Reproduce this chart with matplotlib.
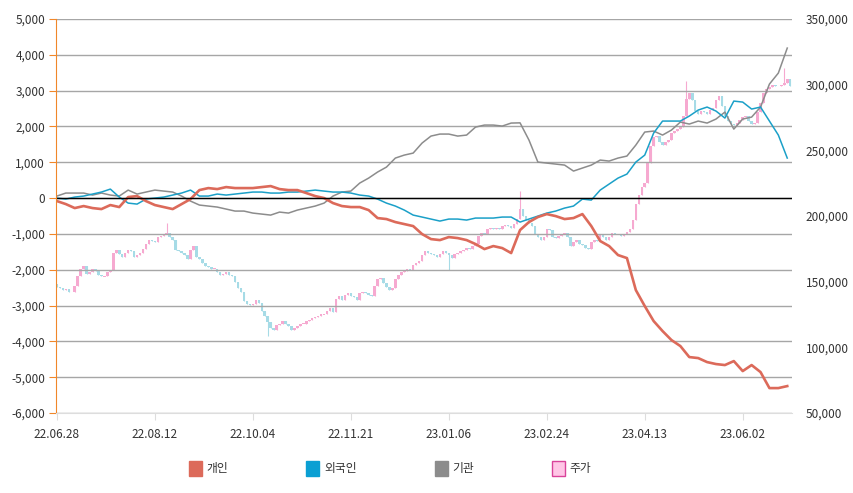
import numpy as np
import matplotlib
matplotlib.use("Agg")
from matplotlib import pyplot as plt
from matplotlib.patches import Patch
from matplotlib.ticker import FuncFormatter

plt.rcParams['font.family'] = ['Noto Sans CJK KR', 'DejaVu Sans']

# 주가 (daily close, thousand KRW)
closes = [146, 145, 144, 144.5, 142.5, 142, 147, 154, 160, 162, 156,
          157, 160, 158, 155, 154, 154, 157, 159, 172, 174,
          171, 169, 172, 174, 173, 169, 170, 172, 175, 179,
          182, 181, 180, 184, 185, 186, 187, 184, 182, 174,
          173, 172, 170, 167, 174, 177, 169, 167, 164, 162,
          161, 160, 160, 157, 155, 156, 157, 155, 154, 150,
          145, 142, 135, 133, 132, 133, 136, 134, 128, 124,
          119, 115, 113.5, 117, 118, 120, 118, 116, 113, 115,
          116, 118, 118, 120, 121, 122, 123, 124, 125, 125,
          128, 130, 127, 137, 139, 136, 140, 141, 139, 138,
          136, 141, 142, 141, 140, 139, 147, 152, 153, 149,
          146, 144, 145, 152, 155, 157, 158, 160, 159, 163,
          164, 166, 170, 173, 172, 171, 170, 169, 171, 173,
          172, 170, 168, 171, 172, 173, 174, 176, 175, 177,
          179, 185, 187, 186, 190, 191, 190, 191, 190, 192,
          193, 192, 191, 194, 198, 205, 200, 197, 195, 192,
          186, 184, 182, 184, 190, 189, 184, 183, 185, 186,
          187, 184, 177, 180, 182, 179, 178, 176, 175, 180,
          182, 181, 186, 184, 182, 184, 187, 186, 186, 185,
          186, 188, 190, 197, 209, 216, 222, 225, 240, 253,
          260, 261, 256, 254, 256, 258, 263, 265, 266, 268,
          276, 289, 294, 288, 280, 278, 280, 279, 278, 281,
          282, 288, 291, 284, 276, 272, 270, 269, 271, 273,
          275, 276, 272, 270, 271, 279, 286, 294, 297, 298,
          300, 299, 299, 300, 301, 304, 299]
first_open = 148
# long shadows (day index: price, thousand KRW)
wick_extremes = {37: 195, 71: 108.5, 132: 159, 156: 219, 212: 303, 245: 313}

# 순매수 누적 (every 3 trading days)
gaein = [-84, -168, -279, -223, -279, -307, -195, -251, 28, 56, -84, -195, -251,
         -307, -168, -28, 223, 279, 251, 307, 279, 279, 279, 307, 335, 251, 223,
         223, 140, 56, 0, -140, -223, -251, -251, -335, -558, -586, -670, -726,
         -782, -1005, -1145, -1173, -1089, -1117, -1173, -1284, -1424, -1340,
         -1396, -1535, -893, -670, -530, -447, -503, -586, -558, -447, -782,
         -1200, -1340, -1591, -1675, -2569, -3015, -3434, -3713, -3964, -4132,
         -4439, -4467, -4579, -4634, -4662, -4551, -4830, -4662, -4858, -5305,
         -5305, -5249]
foreign = [0, -28, 28, 56, 112, 168, 251, 28, -140, -168, -28, 0, 28, 84, 140,
           223, 56, 56, 112, 84, 112, 140, 168, 168, 140, 140, 168, 168, 195, 223,
           195, 168, 168, 140, 84, 56, -28, -140, -223, -335, -475, -530, -586,
           -642, -586, -586, -614, -558, -558, -558, -530, -530, -670, -586, -503,
           -419, -363, -279, -223, -28, -56, 223, 391, 558, 670, 1005, 1200, 1815,
           2150, 2150, 2150, 2289, 2457, 2541, 2429, 2234, 2708, 2680, 2485, 2541,
           2150, 1759, 1117]
institution = [56, 140, 140, 140, 84, 140, 84, 56, 223, 112, 168, 223, 195, 168,
               56, -84, -195, -223, -251, -307, -363, -363, -419, -447, -475, -391,
               -419, -335, -279, -223, -140, 56, 168, 195, 419, 558, 726, 865, 1117,
               1200, 1256, 1536, 1731, 1787, 1787, 1731, 1759, 1982, 2038, 2038,
               2010, 2094, 2100, 1620, 1005, 977, 949, 921, 754, 838, 921, 1061,
               1033, 1117, 1173, 1480, 1843, 1871, 1759, 1899, 2122, 2066, 2150,
               2094, 2206, 2401, 1926, 2206, 2261, 2541, 3183, 3490, 4188]

date_labels = ['22.06.28', '22.08.12', '22.10.04', '22.11.21',
               '23.01.06', '23.02.24', '23.04.13', '23.06.02']
label_step = 33

C_GAEIN = '#dc6a5a'
C_FOREIGN = '#1ba0c8'
C_INST = '#8c8c8c'
C_UP = '#f6a9d0'
C_DOWN = '#a6dbe6'

fig = plt.figure(figsize=(8.54, 4.93), dpi=100)
ax = fig.add_axes([0.0656, 0.1623, 0.9274 - 0.0656, 0.9615 - 0.1623])
ax2 = ax.twinx()

# candles on the right axis
close = np.array(closes) * 1000
open_ = np.concatenate([[first_open * 1000], close[:-1]])
days = np.arange(len(close))
up = close >= open_
hi = np.maximum(open_, close)
lo = np.minimum(open_, close)
for d, v in wick_extremes.items():
    hi[d] = max(hi[d], v * 1000)
    lo[d] = min(lo[d], v * 1000)
colors = np.where(up, C_UP, C_DOWN)
ax2.vlines(days, lo, hi, colors=colors, linewidth=0.8)
flat = np.abs(close - open_) < 500
ax2.bar(days, np.where(flat, 500, close - open_),
        bottom=np.where(flat, close - 250, open_),
        width=0.85, color=colors, linewidth=0)

# lines on the left axis
line_x = np.arange(len(gaein)) * 3
ax.plot(line_x, institution, color=C_INST, linewidth=1.1)
ax.plot(line_x, foreign, color=C_FOREIGN, linewidth=1.1)
ax.plot(line_x, gaein, color=C_GAEIN, linewidth=1.9)
ax.axhline(0, color='black', linewidth=1.0)

ax.set_zorder(ax2.get_zorder() + 1)
ax.patch.set_visible(False)

ax.set_xlim(-0.3, 247.6)
ax.set_ylim(-6000, 5000)
ax2.set_ylim(50000, 350000)
ax.set_yticks(np.arange(-6000, 5001, 1000))
ax2.set_yticks(np.arange(50000, 350001, 50000))
fmt = FuncFormatter(lambda v, p: f"{int(v):,}")
ax.yaxis.set_major_formatter(fmt)
ax2.yaxis.set_major_formatter(fmt)
ax.grid(axis='y', color='#a6a6a6', linewidth=1.0)
ax.set_axisbelow(True)

ax.set_xticks(np.arange(len(date_labels)) * label_step)
ax.set_xticklabels(date_labels)

for a in (ax, ax2):
    a.spines['top'].set_visible(False)
    a.spines['right'].set_visible(False)
ax2.spines['left'].set_visible(False)
ax2.spines['bottom'].set_visible(False)
ax.spines['left'].set_color('#f0872a')
ax.spines['bottom'].set_color('#dddddd')
ax.tick_params(axis='y', colors='#f0872a', labelcolor='#333333', length=5,
               labelsize=8.5, pad=3)
ax.tick_params(axis='x', colors='#dddddd', labelcolor='#333333', length=5,
               labelsize=8.5, pad=6)
ax2.tick_params(axis='y', length=0, labelcolor='#333333', labelsize=8.5, pad=10)

handles = [Patch(facecolor=C_GAEIN, edgecolor=C_GAEIN, label='개인'),
           Patch(facecolor='#0b9fd3', edgecolor='#0b9fd3', label='외국인'),
           Patch(facecolor=C_INST, edgecolor=C_INST, label='기관'),
           Patch(facecolor='#ffc6e6', edgecolor='#d9439a', label='주가')]
fig.legend(handles=handles, loc='center', bbox_to_anchor=(0.457, 0.05), ncol=4,
           frameon=False, fontsize=8.5, handlelength=1.1, handleheight=1.6,
           handletextpad=0.4, columnspacing=6.6, labelcolor='#333333')

fig.savefig('out.png', dpi=100)
